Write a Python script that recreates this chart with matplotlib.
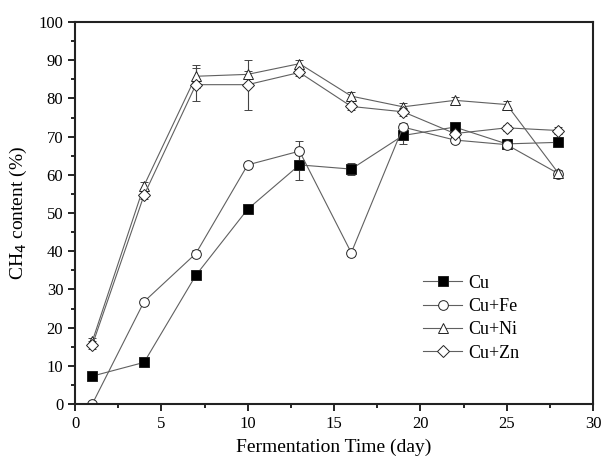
import matplotlib
matplotlib.use("Agg")
import matplotlib.pyplot as plt
from matplotlib.ticker import MultipleLocator

days = [1, 4, 7, 10, 13, 16, 19, 22, 25, 28]
cu = [7.3, 10.9, 33.7, 51.0, 62.6, 61.5, 70.3, 72.5, 68.1, 68.5]
cu_err = [0.5, 0.5, 0.5, 0.5, 4.0, 1.5, 2.3, 0.5, 0.5, 0.5]
cu_fe = [0.0, 26.8, 39.4, 62.6, 66.2, 39.6, 72.5, 69.1, 67.9, 60.3]
cu_fe_err = [0.5, 0.5, 0.8, 0.5, 2.6, 0.8, 1.0, 0.8, 0.8, 0.8]
cu_ni = [16.4, 57.2, 85.8, 86.3, 89.1, 80.6, 77.8, 79.5, 78.4, 60.4]
cu_ni_err = [1.0, 1.0, 3.0, 1.0, 1.0, 1.0, 1.0, 0.8, 0.8, 0.8]
cu_zn = [15.4, 54.7, 83.6, 83.6, 86.8, 77.9, 76.5, 70.8, 72.3, 71.6]
cu_zn_err = [1.0, 1.0, 4.4, 6.5, 1.0, 1.0, 1.0, 1.0, 0.8, 0.8]
series_names = ["Cu", "Cu+Fe", "Cu+Ni", "Cu+Zn"]

plt.rcParams['font.family'] = ['Liberation Serif', 'DejaVu Serif']

fig = plt.figure(figsize=(6.01, 4.59), dpi=100)
ax = fig.add_axes([0.1248, 0.1198, 0.8619, 0.8322])

line_color = "#606060"
styles = [
    (cu, cu_err, "s", "black"),
    (cu_fe, cu_fe_err, "o", "white"),
    (cu_ni, cu_ni_err, "^", "white"),
    (cu_zn, cu_zn_err, "D", "white"),
]
for (vals, errs, mk, fc), name in zip(styles, series_names):
    ms = 7 if mk != "D" else 6
    ax.errorbar(days, vals, yerr=errs, color=line_color, lw=0.8,
                marker=mk, markersize=ms, markerfacecolor=fc,
                markeredgecolor="#222222", markeredgewidth=0.7,
                ecolor="#444444", elinewidth=0.8, capsize=3, capthick=0.8,
                label=name)

ax.set_xlim(0, 30)
ax.set_ylim(0, 100)
ax.xaxis.set_major_locator(MultipleLocator(5))
ax.xaxis.set_minor_locator(MultipleLocator(2.5))
ax.yaxis.set_major_locator(MultipleLocator(10))
ax.yaxis.set_minor_locator(MultipleLocator(5))
ax.tick_params(which="both", direction="out", top=False, right=False,
               labelsize=12, width=1.2)
ax.tick_params(which="major", length=5)
ax.tick_params(which="minor", length=3)
for s in ax.spines.values():
    s.set_linewidth(1.5)
    s.set_color("#222222")

ax.set_xlabel("Fermentation Time (day)", fontsize=14, labelpad=5)
ax.set_ylabel("CH$_4$ content (%)", fontsize=14, labelpad=7)

handles, labels = ax.get_legend_handles_labels()
handles = [h[0] for h in handles]
ax.legend(handles, labels, loc="center left", bbox_to_anchor=(0.64, 0.225),
          frameon=False, fontsize=13, handlelength=2.2, handletextpad=0.3,
          labelspacing=0.35)

fig.savefig("out.png", dpi=100)
